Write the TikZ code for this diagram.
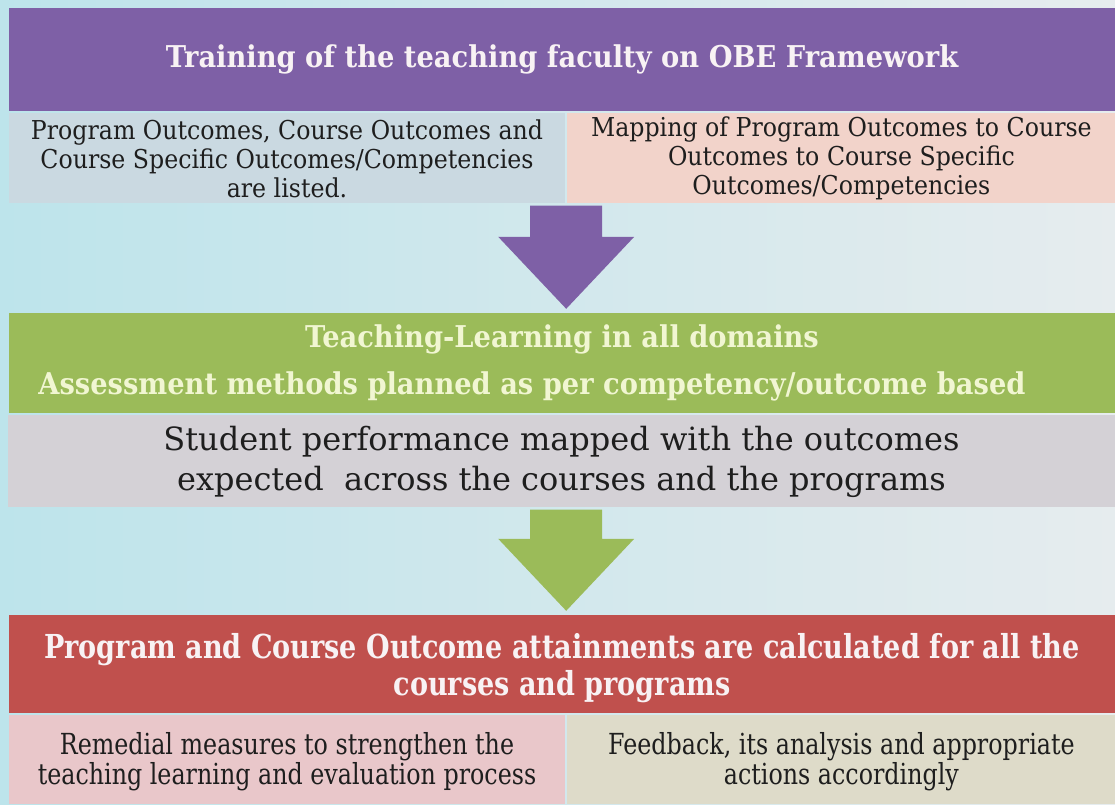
\documentclass[tikz,border=0pt]{standalone}
\usepackage{fontspec}
\setmainfont{DejaVu Serif}
\newfontfamily\headfont[FakeStretch=0.91]{DejaVu Serif}
\newfontfamily\narrowfont[FakeStretch=0.82]{DejaVu Serif}
\definecolor{obepurple}{HTML}{7E60A6}
\definecolor{obegreen}{HTML}{9BBB59}
\definecolor{obered}{HTML}{C0504D}
\definecolor{listblue}{HTML}{CAD9E1}
\definecolor{mappink}{HTML}{F2D3CA}
\definecolor{perfgray}{HTML}{D4D1D6}
\definecolor{remedypink}{HTML}{E9C7CA}
\definecolor{feedtan}{HTML}{DEDBC9}
\definecolor{bgcyan}{HTML}{BDE4EB}
\definecolor{bgpale}{HTML}{E6ECEE}
\definecolor{inkdark}{HTML}{1E1E1E}
\definecolor{titlewhite}{HTML}{F8F2F4}
\definecolor{titlecream}{HTML}{F1F6D2}
\usepackage{tikz}
\usetikzlibrary{calc,positioning}
% block arrow from top point #2 down to tip #3
\newcommand{\blockarrow}[3]{
  \fill[#1] ($(#2)+(-36,0)$) -- ($(#2)+(36,0)$) -- ($(#3)+(36,-72)$) -- ($(#3)+(68,-72)$)
    -- (#3) -- ($(#3)+(-68,-72)$) -- ($(#3)+(-36,-72)$) -- cycle;
}

\begin{document}
\begin{tikzpicture}[x=1pt,y=-1pt,
    band/.style={inner sep=0pt, minimum width=1106pt, align=center},
    cell/.style={inner sep=0pt, align=center, text=inkdark, anchor=north west},
    headtext/.style={font=\headfont\bfseries\fontsize{30}{36}\selectfont},
    celltext/.style={font=\headfont\fontsize{26}{29}\selectfont},
    narrowtext/.style={font=\narrowfont\fontsize{29}{30}\selectfont}]
  \shade[left color=bgcyan, middle color=bgcyan, right color=bgpale] (0,0) rectangle (1115,804);
  \useasboundingbox (0,0) rectangle (1115,804);

  % training
  \node[band, headtext, fill=obepurple, minimum height=103pt, text=titlewhite] (training) at (562,59.5)
    {Training of the teaching faculty on OBE Framework};
  \node[cell, celltext, fill=listblue, minimum width=556pt, minimum height=90pt,
    below=2pt of training.south west, anchor=north west] (listed)
    {Program Outcomes, Course Outcomes and\\Course Specific Outcomes/Competencies\\are listed.};
  \node[cell, celltext, fill=mappink, minimum width=548pt, minimum height=90pt,
    right=2pt of listed.north east, anchor=north west] (mapping)
    {Mapping of Program Outcomes to Course\\Outcomes to Course Specific\\Outcomes/Competencies};

  % teaching-learning
  \node[band, headtext, fill=obegreen, minimum height=100pt, text=titlecream] (teaching) at (562,363)
    {Teaching-Learning in all domains\\[11pt]
     Assessment methods planned as per competency/outcome based\kern60pt};
  \node[cell, font=\fontsize{32}{40}\selectfont, fill=perfgray, minimum width=1107pt, minimum height=92pt,
    below=2pt of teaching.south west, anchor=north west, xshift=-1pt] (performance)
    {Student performance mapped with the outcomes\\
     expected~ across the courses and the programs};

  % attainment
  \node[band, font=\narrowfont\bfseries\fontsize{33}{37}\selectfont, fill=obered, minimum height=98pt,
    text=titlewhite] (attainment) at (562,664)
    {\rule{0pt}{34pt}Program and Course Outcome attainments are calculated for all the\\
     courses and programs};
  \node[cell, narrowtext, fill=remedypink, minimum width=556pt, minimum height=89pt,
    below=2pt of attainment.south west, anchor=north west] (remedial)
    {\rule{0pt}{26pt}Remedial measures to strengthen the\\teaching learning and evaluation process};
  \node[cell, narrowtext, fill=feedtan, minimum width=548pt, minimum height=89pt,
    right=2pt of remedial.north east, anchor=north west] (feedback)
    {\rule{0pt}{26pt}Feedback, its analysis and appropriate\\actions accordingly};

  % arrows
  \coordinate (a1) at ($(listed.south east)+(1,2)$);
  \coordinate (b1) at ($(teaching.north -| a1)+(0,-4)$);
  \blockarrow{obepurple}{a1}{b1}
  \coordinate (a2) at ($(performance.south -| a1)+(0,2)$);
  \coordinate (b2) at ($(attainment.north -| a1)+(0,-4)$);
  \blockarrow{obegreen}{a2}{b2}
\end{tikzpicture}
\end{document}
